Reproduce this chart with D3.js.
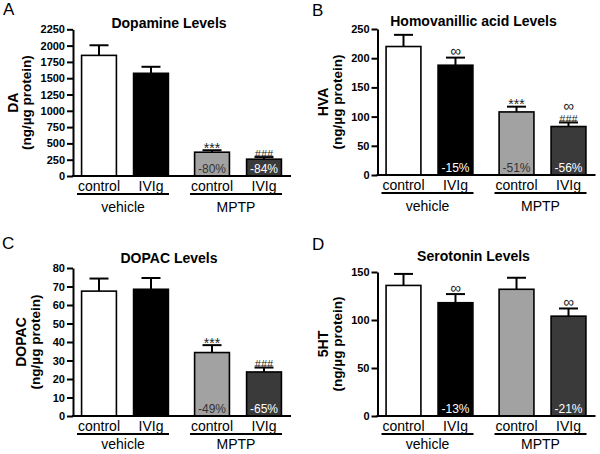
<!DOCTYPE html>
<html>
<head>
<meta charset="utf-8">
<script src="https://cdn.jsdelivr.net/npm/d3@7"></script>
<style>
  html, body { margin: 0; padding: 0; background: #fff; }
  svg { display: block; font-family: "Liberation Sans", Arial, Helvetica, sans-serif; }
</style>
</head>
<body>
<svg id="chart" width="600" height="454"></svg>
<script>
// ---------------- data ----------------
const groups = ["vehicle", "MPTP"];
const categories = ["control", "IVIg", "control", "IVIg"];

const daMean = [1850, 1575, 365, 258];
const daErr  = [155, 100, 30, 32];
const daTicks = [0, 250, 500, 750, 1000, 1250, 1500, 1750, 2000, 2250];
const daPct = ["", "", "-80%", "-84%"];
const daSig = [[], [], ["***"], ["###"]];

const hvaMean = [220, 188, 108, 83];
const hvaErr  = [20, 13, 9, 7];
const hvaTicks = [0, 50, 100, 150, 200, 250];
const hvaPct = ["", "-15%", "-51%", "-56%"];
const hvaSig = [[], ["∞"], ["***"], ["∞", "###"]];

const dopacMean = [67.5, 68.5, 34.3, 23.8];
const dopacErr  = [6.8, 6.1, 4.0, 2.4];
const dopacTicks = [0, 10, 20, 30, 40, 50, 60, 70, 80];
const dopacPct = ["", "", "-49%", "-65%"];
const dopacSig = [[], [], ["***"], ["###"]];

const htMean = [136, 118, 132, 104];
const htErr  = [12, 9, 12, 8];
const htTicks = [0, 50, 100, 150];
const htPct = ["", "-13%", "", "-21%"];
const htSig = [[], ["∞"], [], ["∞"]];

const barFill = ["#ffffff", "#000000", "#a2a2a2", "#3a3a3a"];
const pctFill = ["#000000", "#ffffff", "#333333", "#ffffff"];

// ---------------- layout ----------------
const panels = [
  { letter: "A", lx: 3, ly: 15, title: "Dopamine Levels", tb: 28, ylab: "DA", l1: 18, l2: 31, gOff: 36,
    mean: daMean, err: daErr, ticks: daTicks, pct: daPct, sig: daSig, x0: 73, yTop: 29.3, yBot: 176 },
  { letter: "B", lx: 312, ly: 16, title: "Homovanillic acid Levels", tb: 26, ylab: "HVA", l1: 328, l2: 342, gOff: 36,
    mean: hvaMean, err: hvaErr, ticks: hvaTicks, pct: hvaPct, sig: hvaSig, x0: 377.5, yTop: 29, yBot: 175 },
  { letter: "C", lx: 2, ly: 249, title: "DOPAC Levels", tb: 263, ylab: "DOPAC", l1: 26, l2: 40, gOff: 33,
    mean: dopacMean, err: dopacErr, ticks: dopacTicks, pct: dopacPct, sig: dopacSig, x0: 73, yTop: 268, yBot: 416 },
  { letter: "D", lx: 312, ly: 250, title: "Serotonin Levels", tb: 261, ylab: "5HT", l1: 328, l2: 342, gOff: 33,
    mean: htMean, err: htErr, ticks: htTicks, pct: htPct, sig: htSig, x0: 377.5, yTop: 272, yBot: 416 }
];

const svg = d3.select("#chart");

panels.forEach(p => {
  const g = svg.append("g");
  const y = d3.scaleLinear().domain([0, d3.max(p.ticks)]).range([p.yBot, p.yTop]);
  const xg = d3.scaleBand().domain(groups).range([p.x0, p.x0 + 217]).paddingInner(0.08);
  const xi = d3.scaleBand().domain(["control", "IVIg"]).range([0, xg.bandwidth()])
    .paddingInner(0.33).paddingOuter(0.165);

  const rows = p.mean.map((m, i) => ({
    i, m, e: p.err[i], group: groups[Math.floor(i / 2)], cat: categories[i],
    pct: p.pct[i], sig: p.sig[i]
  }));
  const bx = d => xg(d.group) + xi(d.cat);
  const cx = d => bx(d) + xi.bandwidth() / 2;

  // panel letter
  g.append("text").attr("x", p.lx).attr("y", p.ly).attr("font-size", 17).text(p.letter);
  // title
  g.append("text").attr("x", p.x0 + 96).attr("y", p.tb).attr("text-anchor", "middle")
    .attr("font-size", 14).attr("font-weight", "bold").text(p.title);

  // y label
  const ymid = (p.yTop + p.yBot) / 2;
  g.append("text").attr("transform", `translate(${p.l1},${ymid}) rotate(-90)`)
    .attr("text-anchor", "middle").attr("font-size", 14).attr("font-weight", "bold").text(p.ylab);
  g.append("text").attr("transform", `translate(${p.l2},${ymid}) rotate(-90)`)
    .attr("text-anchor", "middle").attr("font-size", 13.5).attr("font-weight", "bold").text("(ng/µg protein)");

  // error bars
  rows.forEach(d => {
    const c = cx(d), top = y(d.m + d.e);
    g.append("line").attr("x1", c).attr("x2", c).attr("y1", y(d.m)).attr("y2", top)
      .attr("stroke", "#000").attr("stroke-width", 2);
    g.append("line").attr("x1", c - 9.5).attr("x2", c + 9.5).attr("y1", top).attr("y2", top)
      .attr("stroke", "#000").attr("stroke-width", 2);
    // significance marks, listed top to bottom
    let off = 0;
    d.sig.slice().reverse().forEach(s => {
      let base, fs;
      if (s === "***") { base = top + 2.5; fs = 14; }
      else if (s === "###") { base = top + 0.5; fs = 11; }
      else { base = top - 1.5; fs = 15; }
      g.append("text").attr("x", c).attr("y", base - off).attr("text-anchor", "middle")
        .attr("font-size", fs).attr("fill", "#222").text(s);
      off += 10;
    });
  });

  // bars
  g.selectAll("rect.bar").data(rows).join("rect")
    .attr("x", bx).attr("width", xi.bandwidth())
    .attr("y", d => y(d.m)).attr("height", d => y(0) - y(d.m))
    .attr("fill", d => barFill[d.i]).attr("stroke", "#000").attr("stroke-width", 1.6);

  // percent labels
  g.selectAll("text.pct").data(rows.filter(d => d.pct)).join("text")
    .attr("x", cx).attr("y", y(0) - 3).attr("text-anchor", "middle")
    .attr("font-size", 12).attr("fill", d => pctFill[d.i]).text(d => d.pct);

  // y axis
  const ax = g.append("g").attr("transform", `translate(${p.x0},0)`)
    .call(d3.axisLeft(y).tickValues(p.ticks).tickFormat(d3.format("d"))
      .tickSize(6).tickSizeOuter(0).tickPadding(2));
  ax.select(".domain").attr("stroke-width", 2);
  ax.selectAll(".tick line").attr("stroke-width", 2);
  ax.selectAll(".tick text").attr("font-size", 11).attr("font-weight", "bold")
    .attr("font-family", "Liberation Sans, Arial, sans-serif").attr("fill", "#000");

  // x axis baseline
  g.append("line").attr("x1", p.x0 - 1).attr("x2", p.x0 + 218).attr("y1", y(0)).attr("y2", y(0))
    .attr("stroke", "#000").attr("stroke-width", 2);

  // category labels
  g.selectAll("text.cat").data(rows).join("text")
    .attr("x", cx).attr("y", y(0) + 14.5).attr("text-anchor", "middle")
    .attr("font-size", 14).text(d => d.cat);

  // group underlines and labels
  groups.forEach(gr => {
    const s = xg(gr) + 4, e = xg(gr) + 96;
    g.append("line").attr("x1", s).attr("x2", e).attr("y1", y(0) + 18).attr("y2", y(0) + 18)
      .attr("stroke", "#000").attr("stroke-width", 2);
    g.append("text").attr("x", (s + e) / 2).attr("y", y(0) + p.gOff).attr("text-anchor", "middle")
      .attr("font-size", 14).text(gr);
  });
});
</script>
</body>
</html>
